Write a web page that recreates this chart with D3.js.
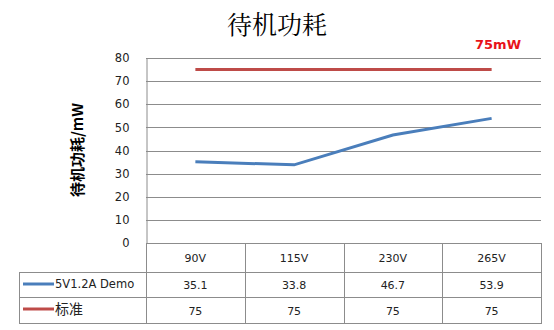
<!DOCTYPE html>
<html><head><meta charset="utf-8">
<script src="https://cdn.jsdelivr.net/npm/d3@7"></script>
<style>body{margin:0;background:#fff}svg{display:block}</style>
</head><body><svg id="c" width="554" height="330"></svg>
<script>
const categories = ["90V", "115V", "230V", "265V"];
const demoValues = [35.1, 33.8, 46.7, 53.9];
const stdValues = [75, 75, 75, 75];
const seriesNames = ["5V1.2A Demo", "标准"];
const yTicks = [0, 10, 20, 30, 40, 50, 60, 70, 80];
const title = "待机功耗";
const yTitle = "待机功耗/mW";
const note = "75mW";

const svg = d3.select("#c");
const L = 146, R = 541, T = 58, B = 243;
const x = d3.scaleBand().domain(categories).range([L, R]);
const y = d3.scaleLinear().domain([0, 80]).range([B, T]);
const font = "Tahoma, Verdana, 'DejaVu Sans', sans-serif";
const grid = "#8c8c8c";

svg.append("text").attr("x", 277).attr("y", 34).attr("text-anchor", "middle")
  .attr("font-family", "'Noto Serif CJK SC','Noto Sans CJK SC',serif").attr("font-size", 25)
  .attr("fill", "#000").text(title);
svg.append("text").attr("x", 498).attr("y", 49).attr("text-anchor", "middle")
  .attr("font-family", font).attr("font-size", 13).attr("font-weight", "bold")
  .attr("fill", "#e8121a").text(note);
svg.append("text").attr("transform", "translate(83,150) rotate(-90)").attr("text-anchor", "middle")
  .attr("font-family", "'Noto Sans CJK SC',sans-serif").attr("font-size", 15).attr("font-weight", "bold")
  .attr("fill", "#000").text(yTitle);

// gridlines
svg.append("g").selectAll("line").data(yTicks).join("line")
  .attr("x1", L).attr("x2", R).attr("y1", d => Math.round(y(d)) + 0.5).attr("y2", d => Math.round(y(d)) + 0.5)
  .attr("stroke", grid).attr("stroke-width", 1);
// y axis
const ya = d3.axisLeft(y).tickValues(yTicks).tickSize(0).tickPadding(17);
const gy = svg.append("g").attr("transform", `translate(${L + 0.5},0)`).call(ya);
gy.select(".domain").attr("stroke", grid);
gy.selectAll("text").attr("font-family", font).attr("font-size", 11.5).attr("fill", "#222");

// lines
const cx = d => x(d) + x.bandwidth() / 2;
const line = d3.line().x((d, i) => cx(categories[i])).y(d => y(d));
svg.append("path").datum(stdValues).attr("d", line).attr("fill", "none")
  .attr("stroke", "#be4b48").attr("stroke-width", 3);
svg.append("path").datum(demoValues).attr("d", line).attr("fill", "none")
  .attr("stroke", "#4a7ebb").attr("stroke-width", 3);

// table
const tb = svg.append("g");
const rowY = [243, 272, 297, 323];
const tL = 19;
const hl = (x1, x2, yy) => tb.append("line").attr("x1", x1).attr("x2", x2).attr("y1", yy + 0.5).attr("y2", yy + 0.5).attr("stroke", grid);
const vl = (xx, y1, y2) => tb.append("line").attr("x1", xx + 0.5).attr("x2", xx + 0.5).attr("y1", y1).attr("y2", y2).attr("stroke", grid);
hl(L, R, rowY[0]);
hl(tL, R, rowY[1]); hl(tL, R, rowY[2]); hl(tL, R, rowY[3]);
vl(tL, rowY[1], rowY[3] + 1);
[...categories.map(c => x(c)), R].forEach(xx => vl(Math.round(xx), rowY[0], rowY[3] + 1));
categories.forEach((c, i) => {
  tb.append("text").attr("x", cx(c)).attr("y", 262).attr("text-anchor", "middle")
    .attr("font-family", font).attr("font-size", 11).attr("fill", "#222").text(c);
  tb.append("text").attr("x", cx(c)).attr("y", 289).attr("text-anchor", "middle")
    .attr("font-family", font).attr("font-size", 11).attr("fill", "#222").text(demoValues[i]);
  tb.append("text").attr("x", cx(c)).attr("y", 315).attr("text-anchor", "middle")
    .attr("font-family", font).attr("font-size", 11).attr("fill", "#222").text(stdValues[i]);
});
const legCol = ["#4a7ebb", "#be4b48"];
seriesNames.forEach((n, i) => {
  const yy = [284, 309][i];
  tb.append("line").attr("x1", 23).attr("x2", 54).attr("y1", yy).attr("y2", yy).attr("stroke", legCol[i]).attr("stroke-width", 3);
  tb.append("text").attr("x", 55).attr("y", yy + (i ? 5 : 4)).attr("font-family", i ? "'Noto Sans CJK SC',sans-serif" : font)
    .attr("font-size", i ? 14 : 11.5).attr("fill", "#222").text(n);
});
</script></body></html>
